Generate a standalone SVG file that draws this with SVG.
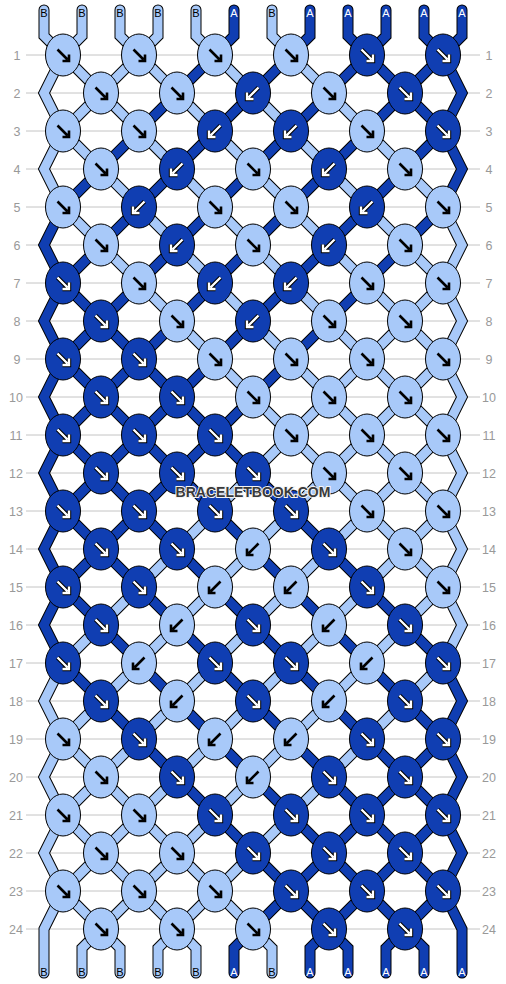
<svg xmlns="http://www.w3.org/2000/svg" xmlns:xlink="http://www.w3.org/1999/xlink" width="506" height="984" viewBox="0 0 506 984">
<style>
.g{stroke:#c4c4c4;stroke-width:1}
.n{font-family:"Liberation Sans",Arial,sans-serif;font-size:12.5px;fill:#999;text-anchor:middle}
.so{fill:none;stroke:#000;stroke-width:11;stroke-linejoin:miter;stroke-linecap:round}
.sA{fill:none;stroke:#103eb2;stroke-width:9;stroke-linejoin:miter;stroke-linecap:round}
.sB{fill:none;stroke:#a8c9f9;stroke-width:9;stroke-linejoin:miter;stroke-linecap:round}
.lb{font-family:"Liberation Sans",Arial,sans-serif;font-size:11px;text-anchor:middle}
.lA{fill:#fff}
.lB{fill:#000}
.wm{font-family:"Liberation Sans",Arial,sans-serif;font-size:14px;font-weight:bold;fill:#3a3a3a;stroke:#f4f4f4;stroke-width:2;paint-order:stroke;text-anchor:middle}
</style>
<defs>
<path id="ar" d="M-5.5,-5.5L4.5,4.5M-0.5,6H6V-0.5" fill="none"/>
<g id="kBR"><ellipse rx="17.5" ry="21" fill="#a8c9f9" stroke="#000"/><use xlink:href="#ar" href="#ar" stroke="#000" stroke-width="2.6"/></g>
<g id="kBL"><ellipse rx="17.5" ry="21" fill="#a8c9f9" stroke="#000"/><use xlink:href="#ar" href="#ar" transform="scale(-1,1)" stroke="#000" stroke-width="2.6"/></g>
<g id="kAR"><ellipse rx="17.5" ry="21" fill="#103eb2" stroke="#000"/><use xlink:href="#ar" href="#ar" stroke="#000" stroke-width="4.4"/><use xlink:href="#ar" href="#ar" stroke="#fff" stroke-width="2.4"/></g>
<g id="kAL"><ellipse rx="17.5" ry="21" fill="#103eb2" stroke="#000"/><use xlink:href="#ar" href="#ar" transform="scale(-1,1)" stroke="#000" stroke-width="4.4"/><use xlink:href="#ar" href="#ar" transform="scale(-1,1)" stroke="#fff" stroke-width="2.4"/></g>
<polyline id="p0" points="44,10 44,36 443,435 462,473 443,511 63,891 44,929 44,973"/>
<polyline id="p1" points="82,10 82,36 63,55 44,93 63,131 443,511 462,549 443,587 82,948 82,973"/>
<polyline id="p2" points="120,10 120,36 443,359 462,397 443,435 63,815 44,853 63,891 120,948 120,973"/>
<polyline id="p3" points="158,10 158,36 63,131 44,169 63,207 443,587 462,625 443,663 158,948 158,973"/>
<polyline id="p4" points="196,10 196,36 443,283 462,321 443,359 63,739 44,777 63,815 196,948 196,973"/>
<polyline id="p5" points="234,10 234,36 63,207 44,245 63,283 443,663 462,701 443,739 234,948 234,973"/>
<polyline id="p6" points="272,10 272,36 443,207 462,245 443,283 63,663 44,701 63,739 272,948 272,973"/>
<polyline id="p7" points="310,10 310,36 63,283 44,321 63,359 443,739 462,777 443,815 310,948 310,973"/>
<polyline id="p8" points="348,10 348,36 443,131 462,169 443,207 63,587 44,625 63,663 348,948 348,973"/>
<polyline id="p9" points="386,10 386,36 63,359 44,397 63,435 443,815 462,853 443,891 386,948 386,973"/>
<polyline id="p10" points="424,10 424,36 443,55 462,93 443,131 63,511 44,549 63,587 424,948 424,973"/>
<polyline id="p11" points="462,10 462,36 63,435 44,473 63,511 443,891 462,929 462,973"/>
</defs>
<rect width="506" height="984" fill="#fff"/>
<g id="grid">
<line class="g" x1="26" y1="55" x2="480" y2="55"/><line class="g" x1="26" y1="93" x2="480" y2="93"/>
<line class="g" x1="26" y1="131" x2="480" y2="131"/><line class="g" x1="26" y1="169" x2="480" y2="169"/>
<line class="g" x1="26" y1="207" x2="480" y2="207"/><line class="g" x1="26" y1="245" x2="480" y2="245"/>
<line class="g" x1="26" y1="283" x2="480" y2="283"/><line class="g" x1="26" y1="321" x2="480" y2="321"/>
<line class="g" x1="26" y1="359" x2="480" y2="359"/><line class="g" x1="26" y1="397" x2="480" y2="397"/>
<line class="g" x1="26" y1="435" x2="480" y2="435"/><line class="g" x1="26" y1="473" x2="480" y2="473"/>
<line class="g" x1="26" y1="511" x2="480" y2="511"/><line class="g" x1="26" y1="549" x2="480" y2="549"/>
<line class="g" x1="26" y1="587" x2="480" y2="587"/><line class="g" x1="26" y1="625" x2="480" y2="625"/>
<line class="g" x1="26" y1="663" x2="480" y2="663"/><line class="g" x1="26" y1="701" x2="480" y2="701"/>
<line class="g" x1="26" y1="739" x2="480" y2="739"/><line class="g" x1="26" y1="777" x2="480" y2="777"/>
<line class="g" x1="26" y1="815" x2="480" y2="815"/><line class="g" x1="26" y1="853" x2="480" y2="853"/>
<line class="g" x1="26" y1="891" x2="480" y2="891"/><line class="g" x1="26" y1="929" x2="480" y2="929"/>
</g>
<g id="rownums" class="n">
<text x="17" y="59.5">1</text><text x="489" y="59.5">1</text>
<text x="17" y="97.5">2</text><text x="489" y="97.5">2</text>
<text x="17" y="135.5">3</text><text x="489" y="135.5">3</text>
<text x="17" y="173.5">4</text><text x="489" y="173.5">4</text>
<text x="17" y="211.5">5</text><text x="489" y="211.5">5</text>
<text x="17" y="249.5">6</text><text x="489" y="249.5">6</text>
<text x="17" y="287.5">7</text><text x="489" y="287.5">7</text>
<text x="17" y="325.5">8</text><text x="489" y="325.5">8</text>
<text x="17" y="363.5">9</text><text x="489" y="363.5">9</text>
<text x="16" y="401.5">10</text><text x="489" y="401.5">10</text>
<text x="16" y="439.5">11</text><text x="489" y="439.5">11</text>
<text x="16" y="477.5">12</text><text x="489" y="477.5">12</text>
<text x="16" y="515.5">13</text><text x="489" y="515.5">13</text>
<text x="16" y="553.5">14</text><text x="489" y="553.5">14</text>
<text x="16" y="591.5">15</text><text x="489" y="591.5">15</text>
<text x="16" y="629.5">16</text><text x="489" y="629.5">16</text>
<text x="16" y="667.5">17</text><text x="489" y="667.5">17</text>
<text x="16" y="705.5">18</text><text x="489" y="705.5">18</text>
<text x="16" y="743.5">19</text><text x="489" y="743.5">19</text>
<text x="16" y="781.5">20</text><text x="489" y="781.5">20</text>
<text x="16" y="819.5">21</text><text x="489" y="819.5">21</text>
<text x="16" y="857.5">22</text><text x="489" y="857.5">22</text>
<text x="16" y="895.5">23</text><text x="489" y="895.5">23</text>
<text x="16" y="933.5">24</text><text x="489" y="933.5">24</text>
</g>
<g id="connectors">
<g id="s0"><use xlink:href="#p0" href="#p0" class="so"/><use xlink:href="#p0" href="#p0" class="sB"/></g>
<g id="s1"><use xlink:href="#p1" href="#p1" class="so"/><use xlink:href="#p1" href="#p1" class="sB"/></g>
<g id="s2"><use xlink:href="#p2" href="#p2" class="so"/><use xlink:href="#p2" href="#p2" class="sB"/></g>
<g id="s3"><use xlink:href="#p3" href="#p3" class="so"/><use xlink:href="#p3" href="#p3" class="sB"/></g>
<g id="s4"><use xlink:href="#p4" href="#p4" class="so"/><use xlink:href="#p4" href="#p4" class="sB"/></g>
<g id="s5"><use xlink:href="#p5" href="#p5" class="so"/><use xlink:href="#p5" href="#p5" class="sA"/></g>
<g id="s6"><use xlink:href="#p6" href="#p6" class="so"/><use xlink:href="#p6" href="#p6" class="sB"/></g>
<g id="s7"><use xlink:href="#p7" href="#p7" class="so"/><use xlink:href="#p7" href="#p7" class="sA"/></g>
<g id="s8"><use xlink:href="#p8" href="#p8" class="so"/><use xlink:href="#p8" href="#p8" class="sA"/></g>
<g id="s9"><use xlink:href="#p9" href="#p9" class="so"/><use xlink:href="#p9" href="#p9" class="sA"/></g>
<g id="s10"><use xlink:href="#p10" href="#p10" class="so"/><use xlink:href="#p10" href="#p10" class="sA"/></g>
<g id="s11"><use xlink:href="#p11" href="#p11" class="so"/><use xlink:href="#p11" href="#p11" class="sA"/></g>
</g>
<g id="labels" class="lb">
<text class="lB" x="44" y="17">B</text><text class="lB" x="82" y="17">B</text><text class="lB" x="120" y="17">B</text><text class="lB" x="158" y="17">B</text><text class="lB" x="196" y="17">B</text><text class="lA" x="234" y="17">A</text><text class="lB" x="272" y="17">B</text><text class="lA" x="310" y="17">A</text><text class="lA" x="348" y="17">A</text><text class="lA" x="386" y="17">A</text><text class="lA" x="424" y="17">A</text><text class="lA" x="462" y="17">A</text>
<text class="lB" x="44" y="976">B</text><text class="lB" x="82" y="976">B</text><text class="lB" x="120" y="976">B</text><text class="lB" x="158" y="976">B</text><text class="lB" x="196" y="976">B</text><text class="lA" x="234" y="976">A</text><text class="lB" x="272" y="976">B</text><text class="lA" x="310" y="976">A</text><text class="lA" x="348" y="976">A</text><text class="lA" x="386" y="976">A</text><text class="lA" x="424" y="976">A</text><text class="lA" x="462" y="976">A</text>
</g>
<g id="knots">
<g id="k1_1" transform="translate(63,55)"><use xlink:href="#kBR" href="#kBR"/></g>
<g id="k1_2" transform="translate(139,55)"><use xlink:href="#kBR" href="#kBR"/></g>
<g id="k1_3" transform="translate(215,55)"><use xlink:href="#kBR" href="#kBR"/></g>
<g id="k1_4" transform="translate(291,55)"><use xlink:href="#kBR" href="#kBR"/></g>
<g id="k1_5" transform="translate(367,55)"><use xlink:href="#kAR" href="#kAR"/></g>
<g id="k1_6" transform="translate(443,55)"><use xlink:href="#kAR" href="#kAR"/></g>
<g id="k2_1" transform="translate(101,93)"><use xlink:href="#kBR" href="#kBR"/></g>
<g id="k2_2" transform="translate(177,93)"><use xlink:href="#kBR" href="#kBR"/></g>
<g id="k2_3" transform="translate(253,93)"><use xlink:href="#kAL" href="#kAL"/></g>
<g id="k2_4" transform="translate(329,93)"><use xlink:href="#kBR" href="#kBR"/></g>
<g id="k2_5" transform="translate(405,93)"><use xlink:href="#kAR" href="#kAR"/></g>
<g id="k3_1" transform="translate(63,131)"><use xlink:href="#kBR" href="#kBR"/></g>
<g id="k3_2" transform="translate(139,131)"><use xlink:href="#kBR" href="#kBR"/></g>
<g id="k3_3" transform="translate(215,131)"><use xlink:href="#kAL" href="#kAL"/></g>
<g id="k3_4" transform="translate(291,131)"><use xlink:href="#kAL" href="#kAL"/></g>
<g id="k3_5" transform="translate(367,131)"><use xlink:href="#kBR" href="#kBR"/></g>
<g id="k3_6" transform="translate(443,131)"><use xlink:href="#kAR" href="#kAR"/></g>
<g id="k4_1" transform="translate(101,169)"><use xlink:href="#kBR" href="#kBR"/></g>
<g id="k4_2" transform="translate(177,169)"><use xlink:href="#kAL" href="#kAL"/></g>
<g id="k4_3" transform="translate(253,169)"><use xlink:href="#kBR" href="#kBR"/></g>
<g id="k4_4" transform="translate(329,169)"><use xlink:href="#kAL" href="#kAL"/></g>
<g id="k4_5" transform="translate(405,169)"><use xlink:href="#kBR" href="#kBR"/></g>
<g id="k5_1" transform="translate(63,207)"><use xlink:href="#kBR" href="#kBR"/></g>
<g id="k5_2" transform="translate(139,207)"><use xlink:href="#kAL" href="#kAL"/></g>
<g id="k5_3" transform="translate(215,207)"><use xlink:href="#kBR" href="#kBR"/></g>
<g id="k5_4" transform="translate(291,207)"><use xlink:href="#kBR" href="#kBR"/></g>
<g id="k5_5" transform="translate(367,207)"><use xlink:href="#kAL" href="#kAL"/></g>
<g id="k5_6" transform="translate(443,207)"><use xlink:href="#kBR" href="#kBR"/></g>
<g id="k6_1" transform="translate(101,245)"><use xlink:href="#kBR" href="#kBR"/></g>
<g id="k6_2" transform="translate(177,245)"><use xlink:href="#kAL" href="#kAL"/></g>
<g id="k6_3" transform="translate(253,245)"><use xlink:href="#kBR" href="#kBR"/></g>
<g id="k6_4" transform="translate(329,245)"><use xlink:href="#kAL" href="#kAL"/></g>
<g id="k6_5" transform="translate(405,245)"><use xlink:href="#kBR" href="#kBR"/></g>
<g id="k7_1" transform="translate(63,283)"><use xlink:href="#kAR" href="#kAR"/></g>
<g id="k7_2" transform="translate(139,283)"><use xlink:href="#kBR" href="#kBR"/></g>
<g id="k7_3" transform="translate(215,283)"><use xlink:href="#kAL" href="#kAL"/></g>
<g id="k7_4" transform="translate(291,283)"><use xlink:href="#kAL" href="#kAL"/></g>
<g id="k7_5" transform="translate(367,283)"><use xlink:href="#kBR" href="#kBR"/></g>
<g id="k7_6" transform="translate(443,283)"><use xlink:href="#kBR" href="#kBR"/></g>
<g id="k8_1" transform="translate(101,321)"><use xlink:href="#kAR" href="#kAR"/></g>
<g id="k8_2" transform="translate(177,321)"><use xlink:href="#kBR" href="#kBR"/></g>
<g id="k8_3" transform="translate(253,321)"><use xlink:href="#kAL" href="#kAL"/></g>
<g id="k8_4" transform="translate(329,321)"><use xlink:href="#kBR" href="#kBR"/></g>
<g id="k8_5" transform="translate(405,321)"><use xlink:href="#kBR" href="#kBR"/></g>
<g id="k9_1" transform="translate(63,359)"><use xlink:href="#kAR" href="#kAR"/></g>
<g id="k9_2" transform="translate(139,359)"><use xlink:href="#kAR" href="#kAR"/></g>
<g id="k9_3" transform="translate(215,359)"><use xlink:href="#kBR" href="#kBR"/></g>
<g id="k9_4" transform="translate(291,359)"><use xlink:href="#kBR" href="#kBR"/></g>
<g id="k9_5" transform="translate(367,359)"><use xlink:href="#kBR" href="#kBR"/></g>
<g id="k9_6" transform="translate(443,359)"><use xlink:href="#kBR" href="#kBR"/></g>
<g id="k10_1" transform="translate(101,397)"><use xlink:href="#kAR" href="#kAR"/></g>
<g id="k10_2" transform="translate(177,397)"><use xlink:href="#kAR" href="#kAR"/></g>
<g id="k10_3" transform="translate(253,397)"><use xlink:href="#kBR" href="#kBR"/></g>
<g id="k10_4" transform="translate(329,397)"><use xlink:href="#kBR" href="#kBR"/></g>
<g id="k10_5" transform="translate(405,397)"><use xlink:href="#kBR" href="#kBR"/></g>
<g id="k11_1" transform="translate(63,435)"><use xlink:href="#kAR" href="#kAR"/></g>
<g id="k11_2" transform="translate(139,435)"><use xlink:href="#kAR" href="#kAR"/></g>
<g id="k11_3" transform="translate(215,435)"><use xlink:href="#kAR" href="#kAR"/></g>
<g id="k11_4" transform="translate(291,435)"><use xlink:href="#kBR" href="#kBR"/></g>
<g id="k11_5" transform="translate(367,435)"><use xlink:href="#kBR" href="#kBR"/></g>
<g id="k11_6" transform="translate(443,435)"><use xlink:href="#kBR" href="#kBR"/></g>
<g id="k12_1" transform="translate(101,473)"><use xlink:href="#kAR" href="#kAR"/></g>
<g id="k12_2" transform="translate(177,473)"><use xlink:href="#kAR" href="#kAR"/></g>
<g id="k12_3" transform="translate(253,473)"><use xlink:href="#kAR" href="#kAR"/></g>
<g id="k12_4" transform="translate(329,473)"><use xlink:href="#kBR" href="#kBR"/></g>
<g id="k12_5" transform="translate(405,473)"><use xlink:href="#kBR" href="#kBR"/></g>
<g id="k13_1" transform="translate(63,511)"><use xlink:href="#kAR" href="#kAR"/></g>
<g id="k13_2" transform="translate(139,511)"><use xlink:href="#kAR" href="#kAR"/></g>
<g id="k13_3" transform="translate(215,511)"><use xlink:href="#kAR" href="#kAR"/></g>
<g id="k13_4" transform="translate(291,511)"><use xlink:href="#kAR" href="#kAR"/></g>
<g id="k13_5" transform="translate(367,511)"><use xlink:href="#kBR" href="#kBR"/></g>
<g id="k13_6" transform="translate(443,511)"><use xlink:href="#kBR" href="#kBR"/></g>
<g id="k14_1" transform="translate(101,549)"><use xlink:href="#kAR" href="#kAR"/></g>
<g id="k14_2" transform="translate(177,549)"><use xlink:href="#kAR" href="#kAR"/></g>
<g id="k14_3" transform="translate(253,549)"><use xlink:href="#kBL" href="#kBL"/></g>
<g id="k14_4" transform="translate(329,549)"><use xlink:href="#kAR" href="#kAR"/></g>
<g id="k14_5" transform="translate(405,549)"><use xlink:href="#kBR" href="#kBR"/></g>
<g id="k15_1" transform="translate(63,587)"><use xlink:href="#kAR" href="#kAR"/></g>
<g id="k15_2" transform="translate(139,587)"><use xlink:href="#kAR" href="#kAR"/></g>
<g id="k15_3" transform="translate(215,587)"><use xlink:href="#kBL" href="#kBL"/></g>
<g id="k15_4" transform="translate(291,587)"><use xlink:href="#kBL" href="#kBL"/></g>
<g id="k15_5" transform="translate(367,587)"><use xlink:href="#kAR" href="#kAR"/></g>
<g id="k15_6" transform="translate(443,587)"><use xlink:href="#kBR" href="#kBR"/></g>
<g id="k16_1" transform="translate(101,625)"><use xlink:href="#kAR" href="#kAR"/></g>
<g id="k16_2" transform="translate(177,625)"><use xlink:href="#kBL" href="#kBL"/></g>
<g id="k16_3" transform="translate(253,625)"><use xlink:href="#kAR" href="#kAR"/></g>
<g id="k16_4" transform="translate(329,625)"><use xlink:href="#kBL" href="#kBL"/></g>
<g id="k16_5" transform="translate(405,625)"><use xlink:href="#kAR" href="#kAR"/></g>
<g id="k17_1" transform="translate(63,663)"><use xlink:href="#kAR" href="#kAR"/></g>
<g id="k17_2" transform="translate(139,663)"><use xlink:href="#kBL" href="#kBL"/></g>
<g id="k17_3" transform="translate(215,663)"><use xlink:href="#kAR" href="#kAR"/></g>
<g id="k17_4" transform="translate(291,663)"><use xlink:href="#kAR" href="#kAR"/></g>
<g id="k17_5" transform="translate(367,663)"><use xlink:href="#kBL" href="#kBL"/></g>
<g id="k17_6" transform="translate(443,663)"><use xlink:href="#kAR" href="#kAR"/></g>
<g id="k18_1" transform="translate(101,701)"><use xlink:href="#kAR" href="#kAR"/></g>
<g id="k18_2" transform="translate(177,701)"><use xlink:href="#kBL" href="#kBL"/></g>
<g id="k18_3" transform="translate(253,701)"><use xlink:href="#kAR" href="#kAR"/></g>
<g id="k18_4" transform="translate(329,701)"><use xlink:href="#kBL" href="#kBL"/></g>
<g id="k18_5" transform="translate(405,701)"><use xlink:href="#kAR" href="#kAR"/></g>
<g id="k19_1" transform="translate(63,739)"><use xlink:href="#kBR" href="#kBR"/></g>
<g id="k19_2" transform="translate(139,739)"><use xlink:href="#kAR" href="#kAR"/></g>
<g id="k19_3" transform="translate(215,739)"><use xlink:href="#kBL" href="#kBL"/></g>
<g id="k19_4" transform="translate(291,739)"><use xlink:href="#kBL" href="#kBL"/></g>
<g id="k19_5" transform="translate(367,739)"><use xlink:href="#kAR" href="#kAR"/></g>
<g id="k19_6" transform="translate(443,739)"><use xlink:href="#kAR" href="#kAR"/></g>
<g id="k20_1" transform="translate(101,777)"><use xlink:href="#kBR" href="#kBR"/></g>
<g id="k20_2" transform="translate(177,777)"><use xlink:href="#kAR" href="#kAR"/></g>
<g id="k20_3" transform="translate(253,777)"><use xlink:href="#kBL" href="#kBL"/></g>
<g id="k20_4" transform="translate(329,777)"><use xlink:href="#kAR" href="#kAR"/></g>
<g id="k20_5" transform="translate(405,777)"><use xlink:href="#kAR" href="#kAR"/></g>
<g id="k21_1" transform="translate(63,815)"><use xlink:href="#kBR" href="#kBR"/></g>
<g id="k21_2" transform="translate(139,815)"><use xlink:href="#kBR" href="#kBR"/></g>
<g id="k21_3" transform="translate(215,815)"><use xlink:href="#kAR" href="#kAR"/></g>
<g id="k21_4" transform="translate(291,815)"><use xlink:href="#kAR" href="#kAR"/></g>
<g id="k21_5" transform="translate(367,815)"><use xlink:href="#kAR" href="#kAR"/></g>
<g id="k21_6" transform="translate(443,815)"><use xlink:href="#kAR" href="#kAR"/></g>
<g id="k22_1" transform="translate(101,853)"><use xlink:href="#kBR" href="#kBR"/></g>
<g id="k22_2" transform="translate(177,853)"><use xlink:href="#kBR" href="#kBR"/></g>
<g id="k22_3" transform="translate(253,853)"><use xlink:href="#kAR" href="#kAR"/></g>
<g id="k22_4" transform="translate(329,853)"><use xlink:href="#kAR" href="#kAR"/></g>
<g id="k22_5" transform="translate(405,853)"><use xlink:href="#kAR" href="#kAR"/></g>
<g id="k23_1" transform="translate(63,891)"><use xlink:href="#kBR" href="#kBR"/></g>
<g id="k23_2" transform="translate(139,891)"><use xlink:href="#kBR" href="#kBR"/></g>
<g id="k23_3" transform="translate(215,891)"><use xlink:href="#kBR" href="#kBR"/></g>
<g id="k23_4" transform="translate(291,891)"><use xlink:href="#kAR" href="#kAR"/></g>
<g id="k23_5" transform="translate(367,891)"><use xlink:href="#kAR" href="#kAR"/></g>
<g id="k23_6" transform="translate(443,891)"><use xlink:href="#kAR" href="#kAR"/></g>
<g id="k24_1" transform="translate(101,929)"><use xlink:href="#kBR" href="#kBR"/></g>
<g id="k24_2" transform="translate(177,929)"><use xlink:href="#kBR" href="#kBR"/></g>
<g id="k24_3" transform="translate(253,929)"><use xlink:href="#kBR" href="#kBR"/></g>
<g id="k24_4" transform="translate(329,929)"><use xlink:href="#kAR" href="#kAR"/></g>
<g id="k24_5" transform="translate(405,929)"><use xlink:href="#kAR" href="#kAR"/></g>
</g>
<text id="watermark" class="wm" x="253" y="497">BRACELETBOOK.COM</text>
</svg>
